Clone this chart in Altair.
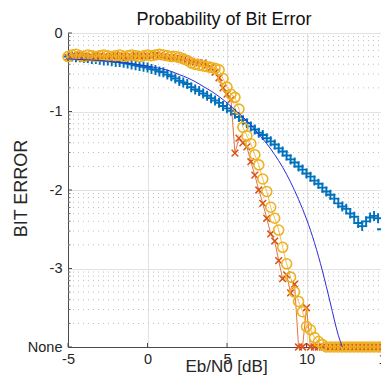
import altair as alt
import pandas as pd
import numpy as np

# ---- data (log10 of bit error rate; -4 = zero errors, shown as "None") ----
ebn0 = [round(-5 + 0.25 * i, 2) for i in range(81)]

ber_sim_plus = [
    -0.30, -0.30, -0.31, -0.31, -0.32, -0.32, -0.33, -0.33, -0.34, -0.35,
    -0.35, -0.36, -0.37, -0.37, -0.38, -0.39, -0.40, -0.41, -0.42, -0.43,
    -0.44, -0.46, -0.47, -0.49, -0.50, -0.53, -0.55, -0.58, -0.61, -0.63,
    -0.65, -0.69, -0.72, -0.74, -0.77, -0.80, -0.83, -0.86, -0.89, -0.93,
    -0.96, -0.99, -1.03, -1.07, -1.11, -1.15, -1.19, -1.23, -1.27, -1.30,
    -1.34, -1.38, -1.42, -1.47, -1.51, -1.56, -1.61, -1.65, -1.70, -1.74,
    -1.79, -1.83, -1.88, -1.92, -1.97, -2.02, -2.06, -2.11, -2.17, -2.21,
    -2.24, -2.30, -2.34, -2.42, -2.46, -2.40, -2.35, -2.33, -2.36, -2.50, -2.50,
]

ber_sim_x = [
    -0.31, -0.29, -0.30, -0.28, -0.29, -0.31, -0.30, -0.28, -0.29, -0.30,
    -0.31, -0.29, -0.28, -0.30, -0.29, -0.31, -0.30, -0.28, -0.29, -0.30,
    -0.29, -0.30, -0.28, -0.29, -0.30, -0.31, -0.31, -0.32, -0.33, -0.34,
    -0.35, -0.36, -0.37, -0.38, -0.38, -0.41, -0.44, -0.50, -0.57, -0.70,
    -0.78, -0.85, -1.53, -1.34, -1.40, -1.45, -1.64, -1.81, -2.00, -2.17,
    -2.36, -2.56, -2.65, -2.90, -3.13, -3.08, -3.31, -3.20, -4.00, -4.00,
    -3.50, -4.00, -4.00, -4.00, -4.00, -4.00, -4.00, -4.00, -4.00, -4.00,
    -4.00, -4.00, -4.00, -4.00, -4.00, -4.00, -4.00, -4.00, -4.00, -4.00, -4.00,
]

ber_sim_o = [
    -0.30, -0.28, -0.27, -0.29, -0.30, -0.28, -0.29, -0.30, -0.29, -0.28,
    -0.29, -0.30, -0.29, -0.28, -0.30, -0.29, -0.28, -0.29, -0.30, -0.29,
    -0.28, -0.29, -0.28, -0.27, -0.28, -0.29, -0.30, -0.30, -0.31, -0.33,
    -0.35, -0.38, -0.40, -0.41, -0.42, -0.43, -0.44, -0.45, -0.47, -0.58,
    -0.69, -0.78, -0.82, -0.97, -1.20, -1.31, -1.41, -1.55, -1.68, -1.86,
    -2.02, -2.22, -2.36, -2.51, -2.73, -2.94, -3.11, -3.30, -3.42, -3.55,
    -3.74, -3.78, -3.88, -3.93, -3.97, -4.00, -4.00, -4.00, -4.00, -4.00,
    -4.00, -4.00, -4.00, -4.00, -4.00, -4.00, -4.00, -4.00, -4.00, -4.00, -4.00,
]

theory_ebn0 = [-5, -4.5, -4, -3.5, -3, -2.5, -2, -1.5, -1, -0.5, 0, 0.5, 1, 1.5,
               2, 2.5, 3, 3.5, 4, 4.5, 5, 5.5, 6, 6.5, 7, 7.5, 8, 8.5, 9, 9.5,
               10, 10.5, 11, 11.5, 12, 12.25]
theory_ber = [-0.33, -0.335, -0.34, -0.345, -0.35, -0.36, -0.37, -0.38, -0.39, -0.405,
              -0.42, -0.44, -0.46, -0.49, -0.53, -0.57, -0.62, -0.68, -0.74, -0.81,
              -0.89, -0.98, -1.07, -1.17, -1.29, -1.41, -1.55, -1.71, -1.90, -2.12,
              -2.37, -2.67, -3.03, -3.44, -3.85, -4.00]

x_ticks = [-5, 0, 5, 10, 15]
y_ticks = [-4, -3, -2, -1, 0]
title_text = ["Probability of Bit Error"]

W_VIEW, W_RANGE, H = 313, 318, 314
FONT = "Liberation Sans"

df_plus = pd.DataFrame({"x": ebn0, "y": ber_sim_plus})
df_x = pd.DataFrame({"x": ebn0, "y": ber_sim_x})
df_o = pd.DataFrame({"x": ebn0, "y": ber_sim_o})
df_th = pd.DataFrame({"x": theory_ebn0, "y": theory_ber})

minor = [d + np.log10(k) for d in y_ticks[:-1] for k in range(2, 10)]
df_minor = pd.DataFrame({"y": minor})
df_ymaj = pd.DataFrame({"y": y_ticks})
df_xmaj = pd.DataFrame({"x": x_ticks})
df_title = pd.DataFrame({"t": title_text})

xs = alt.Scale(domain=[-5, 15], range=[0, W_RANGE], nice=False, zero=False)
ys = alt.Scale(domain=[-4, 0], nice=False, zero=False)

x_axis = alt.Axis(values=x_ticks, title="Eb/N0 [dB]", grid=True, gridColor="#e2e2e2",
                  ticks=False, tickSize=0, domainColor="#4a4a4a", labelFontSize=14.5,
                  labelPadding=5, labelColor="#262626", labelFont=FONT,
                  labelExpr="toString(datum.value)", labelFlush=False,
                  titleFontSize=17, titleFontWeight="normal", titleFont=FONT,
                  titleColor="#262626", titleX=W_RANGE / 2 - 1, titleY=24,
                  titleBaseline="alphabetic")
y_axis = alt.Axis(values=y_ticks, title="BIT ERROR", grid=True, gridColor="#e2e2e2",
                  ticks=False, tickSize=0, domainColor="#4a4a4a", labelFontSize=14.5,
                  labelPadding=6, labelColor="#262626", labelFont=FONT,
                  labelExpr="datum.value == -4 ? 'None' : toString(datum.value)",
                  labelFlush=False,
                  titleFontSize=18, titleFontWeight="normal", titleFont=FONT,
                  titleColor="#262626", titleX=-47, titleY=155, titleAngle=270,
                  titleBaseline="middle", titleAlign="center")

X = alt.X("x:Q", scale=xs, axis=x_axis)
Y = alt.Y("y:Q", scale=ys, axis=y_axis)

base_grid = alt.Chart(df_minor).mark_rule(strokeDash=[1, 4], color="#bdbdbd", strokeWidth=1).encode(
    y=Y, x=alt.value(0), x2=alt.value(W_RANGE),
)
xtick_layer = alt.Chart(df_xmaj).mark_rule(color="#4a4a4a", strokeWidth=1).encode(
    x=X, y=alt.value(H), y2=alt.value(H - 4),
)
ymaj_ticks = alt.Chart(df_ymaj).mark_rule(color="#4a4a4a", strokeWidth=1).encode(
    y=Y, x=alt.value(0), x2=alt.value(4),
)
ymin_ticks = alt.Chart(df_minor).mark_rule(color="#4a4a4a", strokeWidth=0.8).encode(
    y=Y, x=alt.value(0), x2=alt.value(2.5),
)

PLUS = "M-1,0L1,0M0,-1L0,1"
CROSS = "M-1,-1L1,1M-1,1L1,-1"

plus_pts = alt.Chart(df_plus).mark_point(shape=PLUS, filled=False, size=100, strokeWidth=1.9,
                                         color="#0072BD", opacity=1).encode(x=X, y=Y)
x_line = alt.Chart(df_x).mark_line(color="#D95319", strokeWidth=0.8).encode(x=X, y=Y)
x_pts = alt.Chart(df_x).mark_point(shape=CROSS, filled=False, size=45, strokeWidth=1.5,
                                   color="#D95319", opacity=1).encode(x=X, y=Y)
o_line = alt.Chart(df_o).mark_line(color="#EDB120", strokeWidth=0.8).encode(x=X, y=Y)
o_pts = alt.Chart(df_o).mark_point(shape="circle", filled=False, size=100, strokeWidth=1.6,
                                   color="#EDB120", opacity=1).encode(x=X, y=Y)
th_line = alt.Chart(df_th).mark_line(color="#2b2bdc", strokeWidth=1,
                                     interpolate="monotone").encode(x=X, y=Y)

title_layer = alt.Chart(df_title).mark_text(
    font=FONT, fontSize=18, color="#111111", align="center", baseline="alphabetic",
).encode(text="t:N", x=alt.value(W_RANGE / 2 - 3), y=alt.value(-8))

chart = alt.layer(
    base_grid, xtick_layer, ymaj_ticks, ymin_ticks,
    plus_pts, x_line, x_pts, o_line, o_pts, th_line, title_layer,
).properties(
    width=W_VIEW, height=H,
    autosize=alt.AutoSizeParams(type="none"),
    padding={"left": 60, "top": 25, "right": 0, "bottom": 28},
).configure_view(strokeOpacity=0)

chart.save("out.html", embed_options={"renderer": "svg", "actions": False})
